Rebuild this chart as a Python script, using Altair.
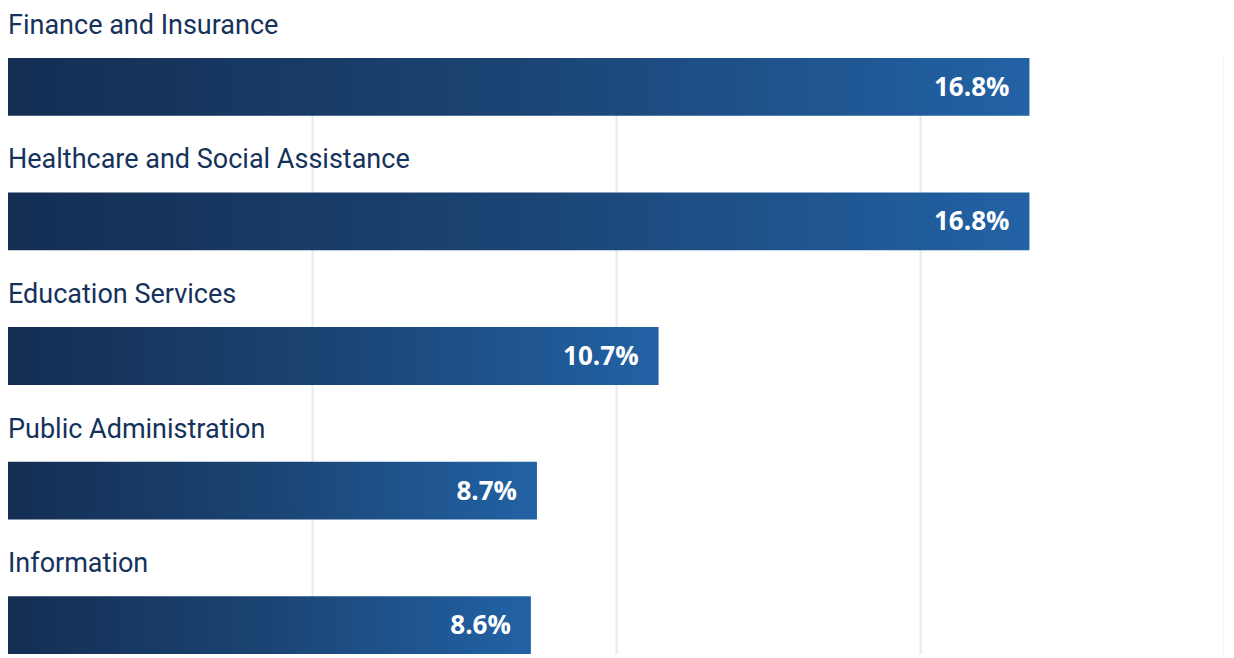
import pandas as pd
import altair as alt

# Share of employment by industry
industries = [
    "Finance and Insurance",
    "Healthcare and Social Assistance",
    "Education Services",
    "Public Administration",
    "Information",
]
shares = [16.8, 16.8, 10.7, 8.7, 8.6]
share_labels = [f"{v}%" for v in shares]

df = pd.DataFrame({"industry": industries, "share": shares, "label": share_labels})

# Dark navy on the left fading into blue on the right of each bar
bar_fill = alt.Gradient(
    gradient="linear",
    stops=[
        alt.GradientStop(color="#142e53", offset=0),
        alt.GradientStop(color="#1b4474", offset=0.5),
        alt.GradientStop(color="#2262a5", offset=1),
    ],
    x1=0, x2=1, y1=0, y2=0,
)

base = alt.Chart(df).encode(
    y=alt.Y(
        "industry:N",
        sort=industries,
        axis=None,
        scale=alt.Scale(paddingInner=0.5704, paddingOuter=0),
    )
)

bars = base.mark_bar(color=bar_fill).encode(
    x=alt.X(
        "share:Q",
        scale=alt.Scale(domain=[0, 20], nice=False),
        axis=alt.Axis(
            values=[5, 10, 15, 20],
            grid=True,
            gridColor="#e4e9f1",
            gridWidth=2,
            labels=False,
            ticks=False,
            domain=False,
            title=None,
        ),
    )
)

# Category names sit above each bar
names = base.mark_text(
    align="left", baseline="middle", dy=-61,
    font="Roboto", fontSize=27, color="#15325b",
).encode(x=alt.value(0), text="industry:N")

# White value labels inside the bar end
values = base.mark_text(
    align="right", baseline="middle", dx=-20, dy=1,
    font="Open Sans", fontWeight="bold", fontSize=26, color="white",
).encode(x="share:Q", text="label:N")

chart = (bars + names + values).properties(
    width=1216, height=596, padding={"left": 0, "top": 3, "right": 0, "bottom": 0}
).configure_view(stroke=None)

chart.save("out.html", embed_options={"renderer": "svg", "actions": False})
